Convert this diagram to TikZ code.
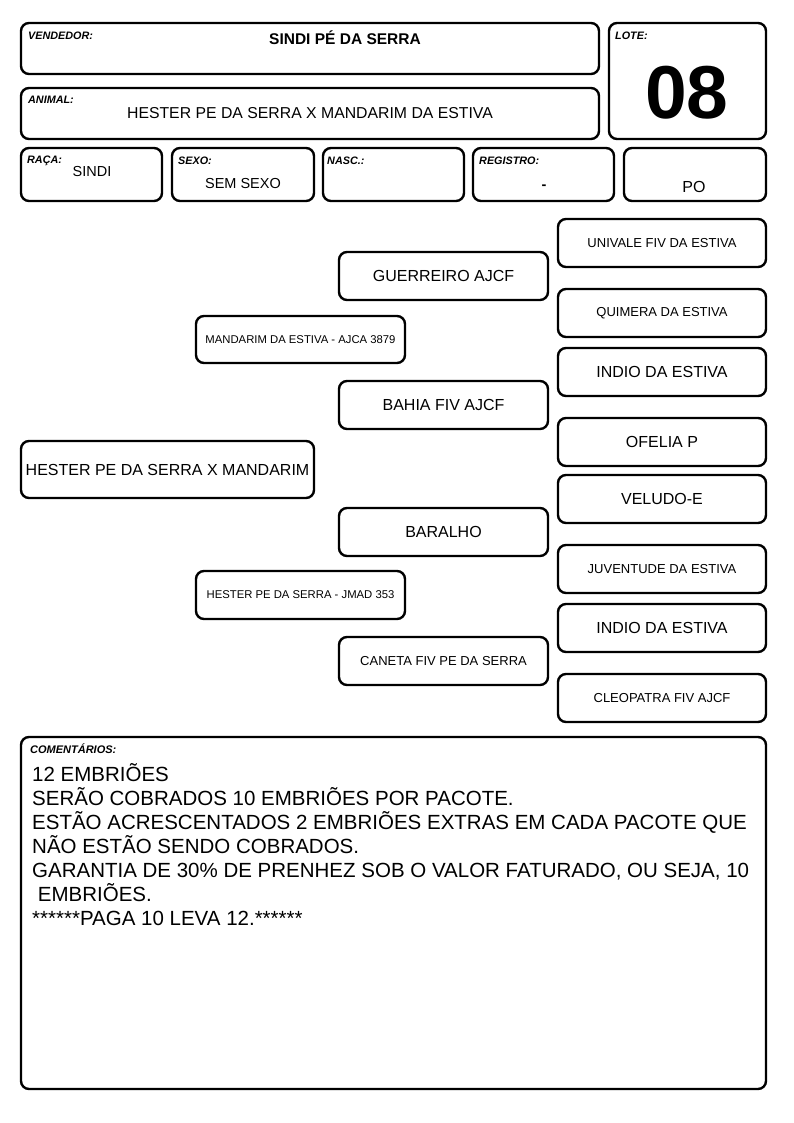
\documentclass[tikz,border=0pt]{standalone}
\usepackage{fontspec}
\setmainfont{Liberation Sans}
\begin{document}
\begin{tikzpicture}[x=1pt,y=-1pt,
  box/.style={draw=black,line width=2.4pt,rounded corners=8pt,inner sep=0pt,align=center},
  tag/.style={anchor=north west,inner sep=0pt,font=\fontsize{10.8}{12}\selectfont\bfseries\itshape},
  big/.style={font=\fontsize{16}{18}\selectfont},
  mid/.style={font=\fontsize{13}{15}\selectfont},
  sml/.style={font=\fontsize{11.3}{13}\selectfont}]
\useasboundingbox (0,0) rectangle (794,1123);
% header boxes
\node[box,minimum width=578pt,minimum height=51pt] (vend) at (310,48.5) {};
\node[tag] (vendt) at (28,31.5) {VENDEDOR:};
\node[inner sep=0pt,font=\fontsize{15.5}{18}\selectfont\bfseries] (vendv) at (345,38) {SINDI PÉ DA SERRA};
\node[box,minimum width=578pt,minimum height=51pt] (anim) at (310,113.5) {};
\node[tag] (animt) at (28,95.5) {ANIMAL:};
\node[inner sep=0pt,font=\fontsize{15.8}{18}\selectfont] (animv) at (310,113) {HESTER PE DA SERRA X MANDARIM DA ESTIVA};
\node[box,minimum width=157pt,minimum height=116pt] (lote) at (687.5,81) {};
\node[tag] (lotet) at (615,31.5) {LOTE:};
\node[inner sep=0pt,font=\fontsize{75}{80}\selectfont\bfseries] (lotev) at (687,93) {08};
\node[box,minimum width=141pt,minimum height=53pt] (raca) at (91.5,174.5) {};
\node[tag] (racat) at (27,155.5) {RAÇA:};
\node[inner sep=0pt,font=\fontsize{14.5}{16}\selectfont] (racav) at (92,172) {SINDI};
\node[box,minimum width=142pt,minimum height=53pt] (sexo) at (243,174.5) {};
\node[tag] (sexot) at (178,156.5) {SEXO:};
\node[inner sep=0pt,font=\fontsize{14.5}{16}\selectfont] (sexov) at (243,184) {SEM SEXO};
\node[box,minimum width=141pt,minimum height=53pt] (nasc) at (393.5,174.5) {};
\node[tag] (nasct) at (327,156.5) {NASC.:};
\node[box,minimum width=141pt,minimum height=53pt] (regi) at (543.5,174.5) {};
\node[tag] (regit) at (479,156.5) {REGISTRO:};
\node[inner sep=0pt,font=\fontsize{14.5}{16}\selectfont\bfseries] (regiv) at (544,187) {-};
\node[box,minimum width=142pt,minimum height=53pt] (po) at (695,174.5) {};
\node[inner sep=0pt,font=\fontsize{16}{18}\selectfont] (pov) at (694,187) {PO};
% pedigree
\node[box,big,minimum width=293pt,minimum height=57pt] (a) at (167.5,469.5) {HESTER PE DA SERRA X MANDARIM};
\node[box,sml,minimum width=209pt,minimum height=47pt] (p1) at (300.5,339.5) {MANDARIM DA ESTIVA - AJCA 3879};
\node[box,sml,minimum width=209pt,minimum height=48pt] (p2) at (300.5,595) {HESTER PE DA SERRA - JMAD 353};
\node[box,big,minimum width=209pt,minimum height=48pt] (g1) at (443.5,276) {GUERREIRO AJCF};
\node[box,big,minimum width=209pt,minimum height=48pt] (g2) at (443.5,405) {BAHIA FIV AJCF};
\node[box,big,minimum width=209pt,minimum height=48pt] (g3) at (443.5,532) {BARALHO};
\node[box,mid,minimum width=209pt,minimum height=48pt] (g4) at (443.5,661) {CANETA FIV PE DA SERRA};
\node[box,mid,minimum width=208pt,minimum height=48pt] (b1) at (662,243) {UNIVALE FIV DA ESTIVA};
\node[box,mid,minimum width=208pt,minimum height=48pt] (b2) at (662,313) {QUIMERA DA ESTIVA};
\node[box,big,minimum width=208pt,minimum height=48pt] (b3) at (662,372) {INDIO DA ESTIVA};
\node[box,big,minimum width=208pt,minimum height=48pt] (b4) at (662,442) {OFELIA P};
\node[box,big,minimum width=208pt,minimum height=48pt] (b5) at (662,499) {VELUDO-E};
\node[box,mid,minimum width=208pt,minimum height=48pt] (b6) at (662,569) {JUVENTUDE DA ESTIVA};
\node[box,big,minimum width=208pt,minimum height=48pt] (b7) at (662,628) {INDIO DA ESTIVA};
\node[box,mid,minimum width=208pt,minimum height=48pt] (b8) at (662,698) {CLEOPATRA FIV AJCF};
% comments
\node[box,minimum width=745pt,minimum height=352pt] (com) at (393.5,913) {};
\node[tag,font=\fontsize{11}{12}\selectfont\bfseries\itshape] (comt) at (30,744) {COMENTÁRIOS:};
\node[anchor=north west,inner sep=0pt,align=left,font=\fontsize{20.5}{24}\selectfont] (comv) at (32,763.5) {12 EMBRIÕES\\SERÃO COBRADOS 10 EMBRIÕES POR PACOTE.\\ESTÃO ACRESCENTADOS 2 EMBRIÕES EXTRAS EM CADA PACOTE QUE\\NÃO ESTÃO SENDO COBRADOS.\\GARANTIA DE 30\% DE PRENHEZ SOB O VALOR FATURADO, OU SEJA, 10\\\ EMBRIÕES.\\******PAGA 10 LEVA 12.******};
\end{tikzpicture}
\end{document}
